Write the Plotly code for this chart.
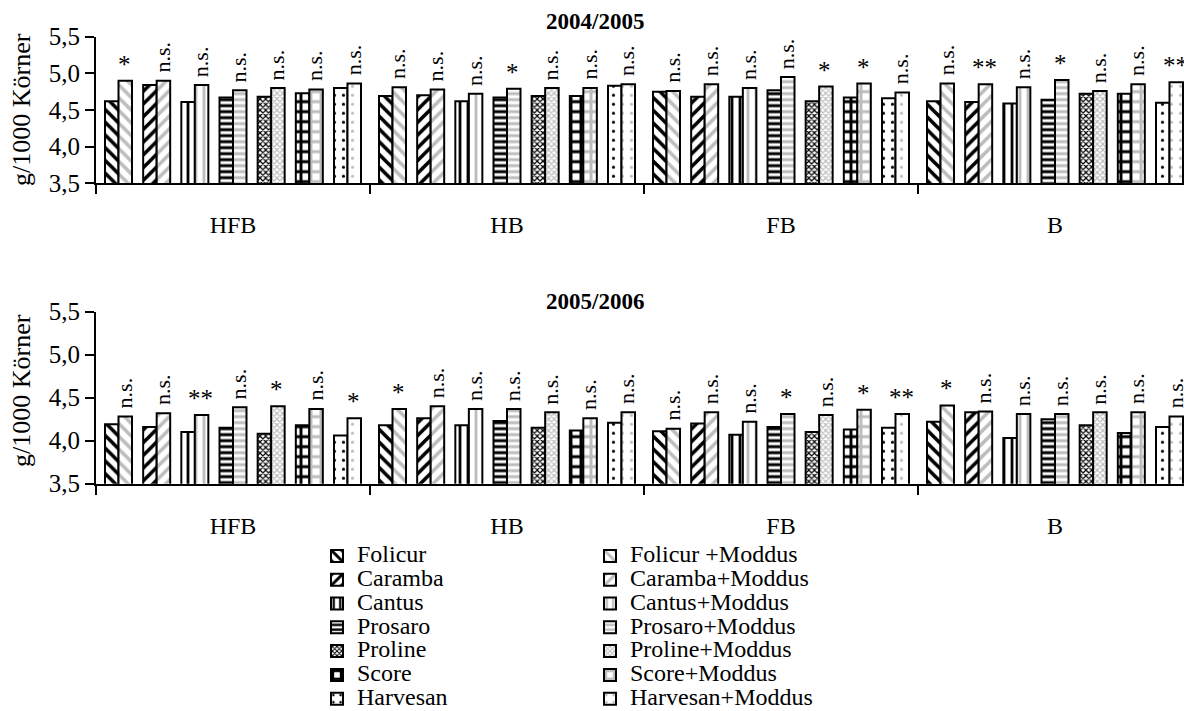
import plotly.graph_objects as go

# ---------------- data ----------------
groups = ["HFB", "HB", "FB", "B"]
treatments = ["Folicur", "Caramba", "Cantus", "Prosaro", "Proline", "Score", "Harvesan"]
moddus_names = ["Folicur +Moddus", "Caramba+Moddus", "Cantus+Moddus", "Prosaro+Moddus",
                "Proline+Moddus", "Score+Moddus", "Harvesan+Moddus"]

# 2004/2005, values per group (HFB, HB, FB, B), 7 treatments each
ohne_0405 = [
    [4.62, 4.84, 4.61, 4.67, 4.68, 4.73, 4.80],
    [4.69, 4.70, 4.62, 4.67, 4.69, 4.69, 4.83],
    [4.75, 4.68, 4.68, 4.77, 4.62, 4.67, 4.66],
    [4.62, 4.61, 4.59, 4.64, 4.72, 4.72, 4.60],
]
mit_0405 = [
    [4.90, 4.90, 4.84, 4.77, 4.80, 4.78, 4.86],
    [4.81, 4.78, 4.72, 4.79, 4.80, 4.80, 4.85],
    [4.76, 4.85, 4.80, 4.95, 4.82, 4.86, 4.74],
    [4.86, 4.85, 4.81, 4.91, 4.76, 4.85, 4.88],
]
sig_0405 = [
    ["*", "n.s.", "n.s.", "n.s.", "n.s.", "n.s.", "n.s."],
    ["n.s.", "n.s.", "n.s.", "*", "n.s.", "n.s.", "n.s."],
    ["n.s.", "n.s.", "n.s.", "n.s.", "*", "*", "n.s."],
    ["n.s.", "**", "n.s.", "*", "n.s.", "n.s.", "**"],
]

# 2005/2006
ohne_0506 = [
    [4.19, 4.16, 4.10, 4.15, 4.08, 4.18, 4.06],
    [4.18, 4.26, 4.18, 4.23, 4.15, 4.12, 4.21],
    [4.11, 4.20, 4.07, 4.16, 4.10, 4.13, 4.15],
    [4.22, 4.33, 4.03, 4.25, 4.18, 4.09, 4.16],
]
mit_0506 = [
    [4.28, 4.32, 4.30, 4.39, 4.40, 4.37, 4.26],
    [4.37, 4.40, 4.37, 4.37, 4.33, 4.26, 4.33],
    [4.14, 4.33, 4.22, 4.31, 4.30, 4.36, 4.31],
    [4.41, 4.34, 4.31, 4.31, 4.33, 4.33, 4.28],
]
sig_0506 = [
    ["n.s.", "n.s.", "**", "n.s.", "*", "n.s.", "*"],
    ["*", "n.s.", "n.s.", "n.s.", "n.s.", "n.s.", "n.s."],
    ["n.s.", "n.s.", "n.s.", "*", "n.s.", "*", "**"],
    ["*", "n.s.", "n.s.", "n.s.", "n.s.", "n.s.", "n.s."],
]

years = ["2004/2005", "2005/2006"]
y_title = "g/1000 Körner"
y_ticks = [3.5, 4.0, 4.5, 5.0, 5.5]

# ---------------- style ----------------
FONT = "Liberation Serif"
GRAY = "#bdbdbd"
W, H = 1184, 703          # page body margin of 8px shifts the figure
ML = 88
patterns = [
    dict(shape="\\", size=9, solidity=0.4),
    dict(shape="/", size=9, solidity=0.4),
    dict(shape="|", size=8, solidity=0.35),
    dict(shape="-", size=6, solidity=0.5),
    dict(shape="x", size=4, solidity=0.5),
    dict(shape="+", size=10, solidity=0.5),
    dict(shape=".", size=9, solidity=0.1),
]
BW = 0.345                 # width of one bar (axis units)
OFF_L, OFF_R = -BW, 0.0    # bar offsets around the pair centre
PS = 0.975                 # spacing of pairs inside a group

dom_top = [1 - 175.3 / H, 1 - 28.7 / H]
dom_bot = [1 - 475.7 / H, 1 - 303.7 / H]

panels = [
    (years[0], ohne_0405, mit_0405, sig_0405, "x", "y", dom_top, 13, 102),
    (years[1], ohne_0506, mit_0506, sig_0506, "x2", "y2", dom_bot, 293, 383),
]

n_t = len(treatments)
n_g = len(groups)


def pair_x(g, t):
    return g * n_t + n_t / 2 + (t - (n_t - 1) / 2) * PS


fig = go.Figure()
annotations = []
for r, (year, ohne, mit, sig, xa, ya, dom, ty, yty) in enumerate(panels):
    for t in range(n_t):
        fig.add_bar(
            x=[pair_x(g, t) for g in range(n_g)], y=[ohne[g][t] for g in range(n_g)],
            offset=OFF_L, width=BW, xaxis=xa, yaxis=ya,
            name='<span style="font-size:24px">%s</span>' % treatments[t],
            legend="legend", showlegend=(r == 1),
            marker=dict(color="white", line=dict(color="black", width=2),
                        pattern=dict(fgcolor="black", bgcolor="white",
                                     fillmode="replace", **patterns[t])),
            hovertemplate="%{y}<extra>" + treatments[t] + "</extra>",
        )
    for t in range(n_t):
        fig.add_bar(
            x=[pair_x(g, t) for g in range(n_g)], y=[mit[g][t] for g in range(n_g)],
            offset=OFF_R, width=BW, xaxis=xa, yaxis=ya,
            name='<span style="font-size:24px">%s</span>' % moddus_names[t],
            legend="legend2", showlegend=(r == 1),
            marker=dict(color="white", line=dict(color="black", width=2),
                        pattern=dict(fgcolor=GRAY, bgcolor="white",
                                     fillmode="replace", **patterns[t])),
            hovertemplate="%{y}<extra>" + moddus_names[t] + "</extra>",
        )
    # significance labels
    for g in range(n_g):
        for t in range(n_t):
            s = sig[g][t]
            ns = s == "n.s."
            annotations.append(dict(
                x=pair_x(g, t) + OFF_R + BW / 2,
                y=max(ohne[g][t], mit[g][t]),
                xref=xa, yref=ya, text=s, showarrow=False,
                xanchor="center", yanchor="bottom",
                textangle=-90 if ns else 0,
                yshift=6 if ns else 1, xshift=-1,
                font=dict(family=FONT, size=22 if ns else 25, color="black"),
            ))
    # panel title
    annotations.append(dict(text="<b>%s</b>" % year, x=(587 - ML) / (W - ML), y=1 - ty / H,
                            xref="paper", yref="paper", showarrow=False,
                            xanchor="center", yanchor="middle",
                            font=dict(family=FONT, size=23, color="black")))
    # y-axis title
    annotations.append(dict(text=y_title, x=(13 - ML) / (W - ML), y=1 - yty / H,
                            xref="paper", yref="paper", showarrow=False,
                            xanchor="center", yanchor="middle", textangle=-90,
                            font=dict(family=FONT, size=26, color="black")))

n_slots = n_g * n_t
xaxis_common = dict(
    range=[0, n_slots], domain=[0, 1],
    tickmode="array", tickvals=[g * n_t + n_t / 2 for g in range(n_g)],
    ticktext=groups, ticks="outside", ticklen=19, tickcolor="rgba(0,0,0,0)",
    tickfont=dict(family=FONT, size=24, color="black"),
    showline=True, linecolor="black", linewidth=2,
    showgrid=False, zeroline=False, fixedrange=True,
    minor=dict(tickmode="array", tickvals=[g * n_t for g in range(n_g + 1)],
               ticks="outside", ticklen=9, tickwidth=2, tickcolor="black", showgrid=False),
)
yaxis_common = dict(
    range=[y_ticks[0], y_ticks[-1]], tickmode="array", tickvals=y_ticks,
    tickformat=".1f", ticks="outside", ticklen=9, tickwidth=2, tickcolor="black",
    tickfont=dict(family=FONT, size=25, color="black"),
    showline=True, linecolor="black", linewidth=2,
    showgrid=False, zeroline=False, fixedrange=True,
)

fig.update_layout(
    width=W, height=H,
    margin=dict(l=ML, r=0, t=0, b=0, autoexpand=False),
    paper_bgcolor="white", plot_bgcolor="white",
    barmode="overlay", separators=",.",
    font=dict(family=FONT, size=22, color="black"),
    xaxis=dict(anchor="y", **xaxis_common),
    xaxis2=dict(anchor="y2", **xaxis_common),
    yaxis=dict(anchor="x", domain=dom_top, **yaxis_common),
    yaxis2=dict(anchor="x2", domain=dom_bot, **yaxis_common),
    legend=dict(xref="container", yref="container", x=309 / W, y=1 - 531 / H,
                xanchor="left", yanchor="top", bgcolor="rgba(0,0,0,0)",
                font=dict(family=FONT, size=16, color="black"), traceorder="normal"),
    legend2=dict(xref="container", yref="container", x=582 / W, y=1 - 531 / H,
                 xanchor="left", yanchor="top", bgcolor="rgba(0,0,0,0)",
                 font=dict(family=FONT, size=16, color="black"), traceorder="normal"),
    annotations=annotations,
)

fig.write_html("out.html")
